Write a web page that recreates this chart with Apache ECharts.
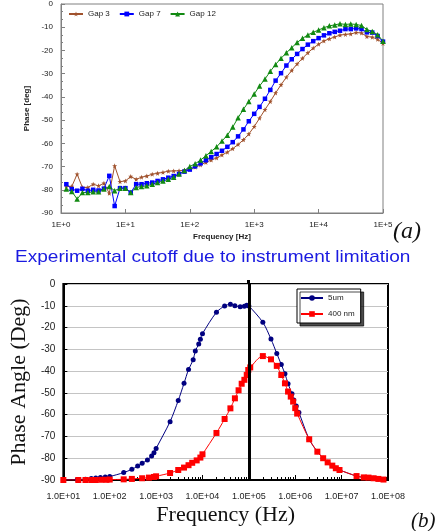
<!DOCTYPE html>
<html><head><meta charset="utf-8">
<script src="https://cdn.jsdelivr.net/npm/echarts@6/dist/echarts.min.js"></script>
<style>html,body{margin:0;padding:0;background:#fff}#c{width:445px;height:531px}</style>
</head><body><div id="c"></div>
<script>
// ---------- Chart (a) data ----------
const topFreq = [1.21,1.47,1.78,2.15,2.61,3.16,3.83,4.64,5.62,6.81,8.25,10,
  12.1,14.7,17.8,21.5,26.1,31.6,38.3,46.4,56.2,68.1,82.5,100,
  121,147,178,215,261,316,383,464,562,681,825,1000,
  1210,1470,1780,2150,2610,3160,3830,4640,5620,6810,8250,10000,
  12100,14700,17800,21500,26100,31600,38300,46400,56200,68100,82500,100000];
const gap3 = [-78.5,-78.6,-73.3,-79,-79,-77.6,-78.3,-77.2,-81.5,-69.7,-76.5,-76.2,
  -74.3,-75.5,-74.6,-74.1,-73.3,-72.9,-72.5,-72,-71.9,-71.8,-71.6,-71.2,
  -70.3,-69.3,-68.2,-67.2,-66.3,-65,-63.8,-62.3,-60.5,-58.5,-56,-52.8,
  -49.2,-45.5,-42,-38.3,-34.8,-31.5,-28.6,-25.8,-23.4,-21,-19,-17.3,
  -15.9,-15,-14.2,-13.4,-13.1,-12.9,-12.3,-12.5,-14,-14.3,-15.2,-17];
const gap7 = [-77.6,-79.7,-80.4,-79.6,-80.4,-80,-80.3,-79.5,-74,-87,-79.3,-79.3,
  -81.2,-77.6,-77.6,-77.2,-76.9,-76.2,-75.5,-74.8,-74.1,-73.2,-72.2,-71.3,
  -69.9,-68.6,-67.3,-66,-64.6,-63.2,-61.5,-59.5,-57,-54,-50.5,-47.3,
  -44.3,-40.8,-37,-33,-29.8,-26.5,-23.8,-21.5,-19.4,-17.5,-16,-14.7,
  -13.5,-12.6,-12,-11.5,-10.8,-10.8,-10.5,-10.8,-12.2,-12.3,-13.8,-16.2];
const gap12 = [-79.7,-80.7,-84,-81.2,-81.2,-80.9,-80.9,-79.7,-78.6,-80.4,-79.3,-79.3,
  -81.2,-79,-78.6,-78.3,-77.6,-76.9,-76.2,-75.5,-74.6,-73.2,-71.7,-70,
  -68.8,-67.2,-65.3,-63.5,-61.5,-59,-56.5,-53,-49,-45.3,-42,-38.8,
  -35.3,-32.3,-29,-26,-23.4,-21,-18.8,-16.6,-14.8,-13.3,-12.2,-11.2,
  -10.2,-9.4,-9,-8.5,-8.8,-8.6,-8.8,-9.3,-11,-11.8,-13.2,-16];
const topTicks = [1,10,100,1000,10000,100000];
const topTickLabels = ['1E+0','1E+1','1E+2','1E+3','1E+4','1E+5'];

// ---------- Chart (b) data ----------
const umFreq = [10,20,30,40,50,63,80,100,200,300,400,500,650,800,900,1000,
  2000,3000,4000,5000,6300,7000,8300,9000,10000,20000,30000,40000,50000,65000,80000,90000,100000,
  200000,300000,400000,500000,600000,700000,850000,930000,1050000,1200000,
  2000000,3000000,4000000,5000000,6300000,7500000,9000000,21000000,30000000,38000000,49000000,62000000,80000000];
const umPhase = [-90,-89.8,-89.6,-89.3,-89.1,-88.9,-88.6,-88.4,-86.6,-85.1,-83.6,-82.3,-80.8,-79,-77.5,-75.5,
  -63.2,-53.5,-45.6,-39.3,-34.8,-30.8,-27.6,-25.4,-22.8,-13,-10.1,-9.3,-10,-10.4,-10.2,-9.8,-10.1,
  -17.6,-25.3,-31.9,-37,-41.2,-45.8,-50.4,-53.3,-56,-59,
  -71.3,-77,-80,-81.9,-83.4,-84.6,-85.4,-88.2,-88.8,-88.9,-89.2,-89.5,-89.8];
const nmFreq = [10,21,30,40,50,66,85,100,200,300,500,700,900,1000,
  2000,3000,4000,5000,6000,7500,9000,10000,
  20000,30000,40000,50000,60000,70000,80000,90000,97000,107000,
  200000,300000,400000,500000,600000,700000,800000,900000,1000000,1100000,
  2000000,3000000,4000000,5000000,6300000,7500000,9000000,21000000,30000000,38000000,49000000,62000000,80000000];
const nmPhase = [-90,-90,-90,-90,-90,-89.9,-89.9,-89.8,-89.7,-89.5,-89.2,-88.9,-88.6,-88.3,
  -86.8,-85.4,-84.3,-83.2,-82.1,-81,-79.7,-78.2,
  -68.4,-62,-57.1,-52.5,-48.8,-45.8,-44,-41.8,-39.5,-38.3,
  -33.1,-34.6,-37.6,-41.8,-45.6,-49.4,-51.7,-54,-57,-59.5,
  -71.3,-77,-80,-81.9,-83.4,-84.6,-85.4,-88.2,-88.8,-88.9,-89.2,-89.5,-89.8];
const bottomTicks = [10,100,1000,10000,100000,1000000,10000000,100000000];
const bottomTickLabels = ['1.0E+01','1.0E+02','1.0E+03','1.0E+04','1.0E+05','1.0E+06','1.0E+07','1.0E+08'];
const cutoffFreq = 100000;

const bottomMinor = [];
for (let d = 10; d < 1e8; d *= 10) for (let k = 2; k <= 9; k++) bottomMinor.push(d * k);

const pair = (xs, ys) => xs.map((x, i) => [x, ys[i]]);
const SANS = 'Liberation Sans, Arial, sans-serif';
const SERIF = 'Liberation Serif, Times New Roman, serif';
const star = 'path://M0,-5L1.3,-1.7L5,-1.6L2,0.7L3,4.3L0,2.2L-3,4.3L-2,0.7L-5,-1.6L-1.3,-1.7Z';

const chart = echarts.init(document.getElementById('c'), null, {renderer: 'canvas'});
chart.setOption({
  animation: false,
  backgroundColor: '#fff',
  grid: [
    {left: 61, top: 4, width: 322, height: 209, show: true, borderColor: '#808080', borderWidth: 1},
    {left: 61, top: 284, width: 327, height: 196, show: true, borderColor: '#000', borderWidth: 2}
  ],
  legend: [
    {left: 68, top: 10, itemWidth: 14, itemHeight: 6, itemGap: 9, padding: 0,
     data: ['Gap 3','Gap 7','Gap 12'], textStyle: {fontSize: 8, fontFamily: SANS, color: '#222'}},
    {orient: 'vertical', left: 297, top: 289, itemWidth: 22, itemHeight: 7, itemGap: 8,
     padding: [5, 6, 5, 3], backgroundColor: '#fff', borderColor: '#000', borderWidth: 1,
     shadowColor: 'rgba(0,0,0,0.7)', shadowOffsetX: 3, shadowOffsetY: 3, shadowBlur: 0,
     data: ['5um','400 nm'], textStyle: {fontSize: 8, fontFamily: SANS, color: '#222'}}
  ],
  xAxis: [
    {gridIndex: 0, type: 'log', logBase: 10, min: 1, max: 100000, position: 'bottom',
     axisLine: {onZero: false, lineStyle: {color: '#808080'}},
     axisTick: {inside: true, length: 4, customValues: topTicks, lineStyle: {color: '#808080'}},
     axisLabel: {customValues: topTicks, fontSize: 8, fontFamily: SANS, color: '#222', margin: 8,
       formatter: v => topTickLabels[topTicks.indexOf(v)] || ''},
     splitLine: {show: false},
     name: 'Frequency [Hz]', nameLocation: 'middle', nameGap: 20,
     nameTextStyle: {fontSize: 8, fontWeight: 'bold', fontFamily: SANS, color: '#222'}},
    {gridIndex: 1, type: 'log', logBase: 10, min: 10, max: 100000000, position: 'bottom',
     axisLine: {onZero: false, lineStyle: {color: '#000', width: 2}},
     axisTick: {inside: true, length: 5, customValues: bottomTicks, lineStyle: {color: '#000'}},
     axisLabel: {customValues: bottomTicks, fontSize: 9, fontFamily: SANS, color: '#222', margin: 12,
       formatter: v => bottomTickLabels[bottomTicks.indexOf(v)] || ''},
     splitLine: {show: false},
     name: 'Frequency (Hz)', nameLocation: 'middle', nameGap: 24,
     nameTextStyle: {fontSize: 22, fontFamily: SERIF, color: '#111'}},
    {gridIndex: 1, type: 'log', logBase: 10, min: 10, max: 100000000, position: 'bottom',
     axisLine: {show: false, onZero: false},
     axisTick: {inside: true, length: 3, customValues: bottomMinor, lineStyle: {color: '#000'}},
     axisLabel: {show: false}, splitLine: {show: false}}
  ],
  yAxis: [
    {gridIndex: 0, type: 'value', min: -90, max: 0, interval: 10,
     axisLine: {show: true, onZero: false, lineStyle: {color: '#808080'}},
     axisTick: {show: true, inside: true, length: 4, lineStyle: {color: '#808080'}},
     minorTick: {show: true, splitNumber: 3, length: 2, lineStyle: {color: '#808080'}},
     axisLabel: {fontSize: 8, fontFamily: SANS, color: '#222', margin: 8},
     splitLine: {show: false},
     name: 'Phase [deg]', nameLocation: 'middle', nameGap: 21,
     nameTextStyle: {fontSize: 8, fontWeight: 'bold', fontFamily: SANS, color: '#222'}},
    {gridIndex: 1, type: 'value', min: -90, max: 0, interval: 10,
     axisLine: {show: true, onZero: false, lineStyle: {color: '#000', width: 2}},
     axisTick: {show: true, inside: true, length: 4, lineStyle: {color: '#000'}},
     axisLabel: {fontSize: 10, fontFamily: SANS, color: '#222', margin: 8},
     splitLine: {show: true, lineStyle: {color: '#c4c4c4', width: 1}},
     name: 'Phase Angle (Deg)', nameLocation: 'middle', nameGap: 27,
     nameTextStyle: {fontSize: 22, fontFamily: SERIF, color: '#111'}}
  ],
  series: [
    {name: 'Gap 3', type: 'line', xAxisIndex: 0, yAxisIndex: 0, data: pair(topFreq, gap3),
     symbol: star, symbolSize: 5, itemStyle: {color: '#a0522d'}, lineStyle: {color: '#a0522d', width: 1}},
    {name: 'Gap 7', type: 'line', xAxisIndex: 0, yAxisIndex: 0, data: pair(topFreq, gap7),
     symbol: 'rect', symbolSize: 4.5, itemStyle: {color: '#0000ff'}, lineStyle: {color: '#0000ff', width: 1}},
    {name: 'Gap 12', type: 'line', xAxisIndex: 0, yAxisIndex: 0, data: pair(topFreq, gap12),
     symbol: 'triangle', symbolSize: 5.5, itemStyle: {color: '#128a12'}, lineStyle: {color: '#128a12', width: 1}},
    {name: '5um', type: 'line', xAxisIndex: 1, yAxisIndex: 1, data: pair(umFreq, umPhase), smooth: 0.3,
     symbol: 'circle', symbolSize: 5, itemStyle: {color: '#000080'}, lineStyle: {color: '#000080', width: 1},
     markLine: {silent: true, symbol: ['none','none'], label: {show: false},
       lineStyle: {color: '#000', width: 3, type: 'solid'}, data: [{xAxis: cutoffFreq}]}},
    {name: '400 nm', type: 'line', xAxisIndex: 1, yAxisIndex: 1, data: pair(nmFreq, nmPhase), smooth: 0.3,
     symbol: 'rect', symbolSize: 6, itemStyle: {color: '#ff0000'}, lineStyle: {color: '#ff0000', width: 1}}
  ],
  graphic: [
    {type: 'text', left: 393, top: 220, style: {text: '(a)', font: 'italic 24px ' + SERIF, fill: '#111'}},
    {type: 'text', left: 15, top: 249, scaleX: 1.12,
     style: {text: 'Experimental cutoff due to instrument limitation', font: '17px ' + SANS, fill: '#1a1ae0'}},
    {type: 'line', shape: {x1: 248.5, y1: 280, x2: 248.5, y2: 285}, style: {stroke: '#000', lineWidth: 3}},
    {type: 'text', left: 411, top: 511, style: {text: '(b)', font: 'italic 21px ' + SERIF, fill: '#111'}}
  ]
});
</script></body></html>
